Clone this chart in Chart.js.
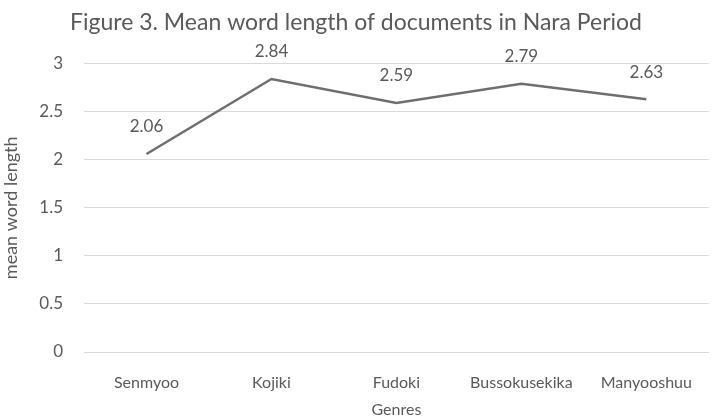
<!DOCTYPE html>
<html>
<head>
<meta charset="utf-8">
<script src="https://cdn.jsdelivr.net/npm/chart.js@4.4.1/dist/chart.umd.min.js"></script>
<style>
    html, body { margin: 0; padding: 0; background: #fff; }
    #wrap { width: 713px; height: 419px; }
</style>
</head>
<body>
<div id="wrap"><canvas id="lengthChart" width="713" height="419"></canvas></div>
<script>
const genres = ["Senmyoo", "Kojiki", "Fudoki", "Bussokusekika", "Manyooshuu"];
const meanLengths = [2.06, 2.84, 2.59, 2.79, 2.63];
const yTicks = [0, 0.5, 1, 1.5, 2, 2.5, 3];

const textColor = "#595959";
const fontFamily = "Lato, 'Open Sans', sans-serif";

// value labels above each point
const pointLabels = {
    id: "pointLabels",
    afterDatasetsDraw(chart) {
        const ctx = chart.ctx;
        const meta = chart.getDatasetMeta(0);
        ctx.save();
        ctx.fillStyle = textColor;
        ctx.font = "17px " + fontFamily;
        ctx.textAlign = "center";
        ctx.textBaseline = "middle";
        meta.data.forEach((pt, i) => {
            ctx.fillText(meanLengths[i].toFixed(2), pt.x, pt.y - 27);
        });
        ctx.restore();
    }
};

const ctx = document.getElementById("lengthChart").getContext("2d");
new Chart(ctx, {
    type: "line",
    data: {
        labels: genres,
        datasets: [{
            data: meanLengths,
            borderColor: "#6e6e6e",
            borderWidth: 2.5,
            pointRadius: 0,
            tension: 0,
            fill: false
        }]
    },
    options: {
        responsive: false,
        animation: false,
        layout: { padding: { left: 0, right: 1, top: 0, bottom: 0 } },
        plugins: {
            legend: { display: false },
            tooltip: { enabled: false },
            title: {
                display: true,
                text: "Figure 3. Mean word length of documents in Nara Period",
                color: textColor,
                font: { family: fontFamily, size: 23, weight: "normal" },
                padding: { top: 9, bottom: 27 }
            }
        },
        scales: {
            x: {
                offset: true,
                grid: { display: false, drawTicks: false },
                border: { color: "#d9d9d9", width: 1 },
                ticks: {
                    color: textColor,
                    font: { family: fontFamily, size: 16 },
                    padding: 21,
                    maxRotation: 0
                },
                title: {
                    display: true,
                    text: "Genres",
                    color: textColor,
                    font: { family: fontFamily, size: 16 },
                    padding: { top: 3, bottom: 0 }
                },
                afterFit(scale) { scale.height = 67; }
            },
            y: {
                min: 0,
                max: 3,
                afterBuildTicks(scale) {
                    scale.ticks = yTicks.map(v => ({ value: v }));
                },
                grid: { color: "#d9d9d9", drawTicks: false },
                border: { display: false },
                ticks: {
                    color: textColor,
                    font: { family: fontFamily, size: 17 },
                    padding: 21,
                    callback: (v) => String(v)
                },
                title: {
                    display: true,
                    text: "mean word length",
                    color: textColor,
                    font: { family: fontFamily, size: 18 },
                    padding: { top: 0, bottom: 2 }
                },
                afterFit(scale) { scale.width = 84; }
            }
        }
    },
    plugins: [pointLabels]
});
</script>
</body>
</html>
